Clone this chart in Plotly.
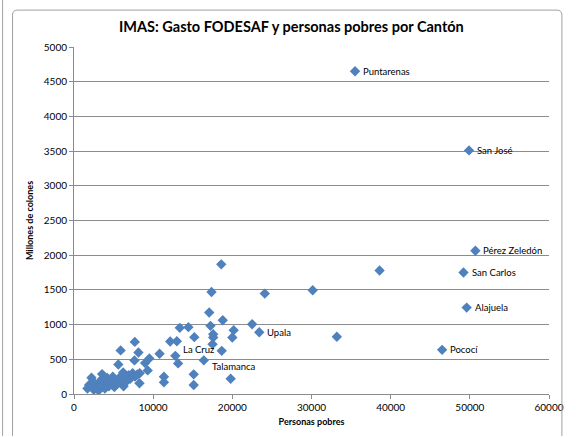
import plotly.graph_objects as go

# Personas pobres (x) y gasto FODESAF del IMAS en millones de colones (y), por cantón
cantones = ["Puntarenas", "San José", "Pérez Zeledón", "San Carlos", "Alajuela",
            "Pococí", "Upala", "La Cruz", "Talamanca"]
personas_nombrados = [35500, 49900, 50700, 49200, 49600, 46500, 23400, 12800, 16400]
gasto_nombrados = [4650, 3510, 2065, 1750, 1245, 636, 890, 550, 485]

personas_otros = [38600, 33200, 30150, 24100, 18600, 17370, 17080, 18790, 22500, 20170,
                  20000, 17240, 17580, 17580, 17500, 18660, 15200, 14450, 13360, 12150,
                  12990, 10810, 13150, 15120, 15120, 19790, 11360, 11360, 9520, 8980,
                  9310, 7680, 8140, 5890, 7640, 5600, 6210, 6260, 8270, 2210,
                  3550, 3550,
                  1700, 1900, 2300, 2500, 2700, 2900, 3100, 3300, 3500, 3700,
                  3900, 4100, 4200, 4400, 4600, 4800, 4900, 5100, 5300, 5500,
                  5700, 6000, 6500, 6700, 6900, 7100, 7400, 7700, 8000, 8300]
gasto_otros = [1780, 826, 1494, 1447, 1868, 1470, 1174, 1063, 1006, 920,
               814, 982, 862, 814, 718, 622, 819, 963, 953, 757,
               761, 579, 441, 283, 129, 220, 249, 168, 513, 445,
               340, 751, 599, 628, 484, 426, 311, 111, 154, 234,
               287, 216,
               80, 130, 110, 60, 150, 90, 50, 180, 120, 200,
               80, 150, 230, 110, 180, 140, 250, 100, 190, 150,
               230, 200, 240, 190, 270, 220, 300, 250, 280, 300]

x_ticks = [0, 10000, 20000, 30000, 40000, 50000, 60000]
y_ticks = [0, 500, 1000, 1500, 2000, 2500, 3000, 3500, 4000, 4500, 5000]

FONT = "Lato, 'Open Sans', sans-serif"
BLUE = "#4F81BD"
GRID = "#8C8C8C"

x_all = personas_nombrados + personas_otros
y_all = gasto_nombrados + gasto_otros

fig = go.Figure()
fig.add_trace(go.Scatter(
    x=x_all, y=y_all, mode="markers",
    marker=dict(symbol="diamond", size=8, color=BLUE, line=dict(width=0)),
    showlegend=False, hoverinfo="x+y",
))

label_yshift = {"La Cruz": 6, "Talamanca": -6}
annotations = []
for name, xv, yv in zip(cantones, personas_nombrados, gasto_nombrados):
    annotations.append(dict(
        x=xv, y=yv, xref="x", yref="y", text=name, showarrow=False,
        xanchor="left", yanchor="middle", xshift=6, yshift=label_yshift.get(name, 0),
        font=dict(family=FONT, size=9.5, color="#000000"),
    ))


# paper coordinates relative to plot area of 479 x 348 px at left=74, top=47
def px_x(px):
    return (px - 74) / 479.0


def px_y(py):
    return (395 - py) / 348.0


annotations.append(dict(
    x=px_x(293), y=px_y(26), xref="paper", yref="paper",
    text="<b>IMAS: Gasto FODESAF y personas pobres por Cantón</b>", showarrow=False,
    xanchor="center", yanchor="middle", font=dict(family=FONT, size=14.5, color="#000000"),
))

shapes = [
    dict(type="line", xref="paper", yref="paper",
         x0=px_x(2), x1=px_x(2), y0=px_y(0), y1=px_y(437),
         line=dict(color="#A0A0A0", width=1)),
    dict(type="path", xref="paper", yref="paper",
         path=(f"M {px_x(12)} {px_y(437)} L {px_x(12)} {px_y(15)} "
               f"Q {px_x(12)} {px_y(10)} {px_x(17)} {px_y(10)} "
               f"L {px_x(561)} {px_y(10)} Q {px_x(566)} {px_y(10)} {px_x(566)} {px_y(15)} "
               f"L {px_x(566)} {px_y(437)}"),
         line=dict(color="#A0A0A0", width=1)),
]

fig.update_layout(
    width=576, height=437,
    margin=dict(l=74, r=23, t=47, b=42, pad=0),
    paper_bgcolor="white", plot_bgcolor="white",
    font=dict(family=FONT, size=10, color="#000000"),
    annotations=annotations, shapes=shapes,
    xaxis=dict(
        range=[0, 60000], tickvals=x_ticks, ticktext=[str(v) for v in x_ticks],
        showgrid=False, zeroline=False, showline=True, linecolor=GRID, linewidth=1,
        ticks="outside", ticklen=4, tickcolor=GRID,
        tickfont=dict(family=FONT, size=10, color="#000000"),
        title=dict(text="<b>Personas pobres</b>", font=dict(family=FONT, size=9, color="#000000"), standoff=6),
        fixedrange=True,
    ),
    yaxis=dict(
        range=[0, 5000], tickvals=y_ticks, ticktext=[str(v) for v in y_ticks],
        showgrid=True, gridcolor=GRID, gridwidth=1, zeroline=False,
        showline=True, linecolor=GRID, linewidth=1,
        ticks="outside", ticklen=4, tickcolor=GRID,
        tickfont=dict(family=FONT, size=10, color="#000000"),
        title=dict(text="<b>Millones de colones</b>", font=dict(family=FONT, size=9, color="#000000"), standoff=8),
        fixedrange=True,
    ),
)

fig.write_html("out.html", config={"displayModeBar": False},
               post_script="document.body.style.margin='0';")
